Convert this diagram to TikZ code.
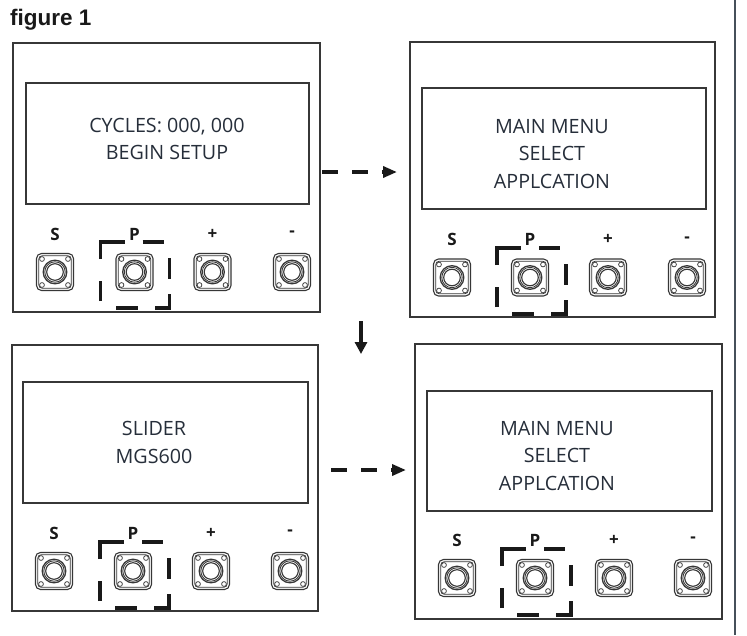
\documentclass[tikz,border=0pt]{standalone}
\usepackage{fontspec}
\setmainfont{Open Sans}
\newfontfamily\titlefont{Liberation Sans}
\usetikzlibrary{arrows.meta}
\definecolor{linegray}{RGB}{55,55,55}
\definecolor{txtnavy}{RGB}{38,46,58}
\definecolor{darkk}{RGB}{25,25,25}
\definecolor{edgegray}{RGB}{70,80,90}
\tikzset{
  panel/.style={draw=linegray, line width=1.4pt, inner sep=0pt, outer sep=0pt},
  screen/.style={draw=linegray, line width=1.6pt, inner sep=0pt, outer sep=0pt},
  screentext/.style={text=txtnavy, align=center, inner sep=0pt, font=\fontsize{19.7}{27.5}\selectfont},
  keylabel/.style={text=darkk, inner sep=0pt, font=\fontsize{17}{19}\selectfont\bfseries},
  hlline/.style={draw=darkk, line width=3.6pt},
  dasharrow/.style={draw=darkk, line width=3.4pt, dash pattern=on 16pt off 14pt, -{Triangle[length=14pt,width=11pt]}},
  solidarrow/.style={draw=darkk, line width=3.4pt, -{Triangle[length=12pt,width=12pt]}},
  btn/.pic={
    \draw[linegray, line width=1.1pt, rounded corners=5pt] (-18.5,-18.5) rectangle (18.5,18.5);
    \draw[linegray, line width=0.7pt, rounded corners=3.5pt] (-16.3,-16.3) rectangle (16.3,16.3);
    \foreach \sx in {-1,1} \foreach \sy in {-1,1} \draw[linegray, line width=0.7pt] (13*\sx,13*\sy) circle (2.4pt);
    \draw[linegray, line width=1.3pt] (0,0) circle (11.8pt);
    \draw[linegray, line width=0.8pt] (0,0) circle (10.2pt);
    \draw[linegray, line width=1.1pt] (0,0) circle (8.3pt);
  }
}
\newcommand{\mybtnrow}[6]{%
  \foreach \lab/\xx/\nm in {S/#2/s, P/#3/p, +/#4/plus, -/#5/minus} {
    \pic at (\xx,#6) {btn};
    \node[keylabel] (#1\nm) at (\xx,#6-38) {\lab};
  }%
}
\newcommand{\myhilite}[2]{%
  \begin{scope}[shift={(#1,#2)}]
    \draw[hlline] (-34,-13) -- (-34,-30) -- (-10,-30);
    \draw[hlline] (8,-30) -- (29,-30);
    \draw[hlline] (35,-14) -- (35,7);
    \draw[hlline] (35,22) -- (35,36) -- (20,36);
    \draw[hlline] (3,36) -- (-19,36);
    \draw[hlline] (-34,29) -- (-34,9);
  \end{scope}%
}
\begin{document}
\begin{tikzpicture}[x=1pt,y=-1pt]
\useasboundingbox (0,0) rectangle (747,635);
\fill[white] (0,0) rectangle (747,635);

% title
\node[anchor=base west, inner sep=0pt, font=\titlefont\bfseries\fontsize{22.5}{25}\selectfont, text=darkk] (title) at (10,25) {figure 1};

% right edge line
\coordinate (edgetop) at (735,0);
\coordinate (edgebot) at (735,635);
\draw[edgegray, line width=1.3pt] (edgetop) -- (edgebot);

% panel 1
\node[panel, minimum width=307pt, minimum height=269pt] (p1) at (166.5,177.5) {};
\node[screen, minimum width=283pt, minimum height=121pt] (s1) at (167.5,143.5) {};
\node[screentext] (t1) at (167,139) {CYCLES: 000, 000\\BEGIN SETUP};
\mybtnrow{a}{55}{134.5}{212.5}{292}{272}
\myhilite{134.5}{272}

% panel 2
\node[panel, minimum width=305pt, minimum height=275pt] (p2) at (562.5,179.5) {};
\node[screen, minimum width=284pt, minimum height=121pt] (s2) at (564,148.5) {};
\node[screentext] (t2) at (552,154) {MAIN MENU\\SELECT\\APPLCATION};
\mybtnrow{b}{452}{530}{608}{687}{277.5}
\myhilite{531}{278}

% panel 3
\node[panel, minimum width=306pt, minimum height=266pt] (p3) at (165,478) {};
\node[screen, minimum width=285pt, minimum height=121pt] (s3) at (165.5,442.5) {};
\node[screentext] (t3) at (154,442.5) {SLIDER\\MGS600};
\mybtnrow{c}{54}{133}{211}{290}{571}
\myhilite{134}{572}

% panel 4
\node[panel, minimum width=307pt, minimum height=275pt] (p4) at (568.5,481.5) {};
\node[screen, minimum width=285pt, minimum height=120pt] (s4) at (569.5,451) {};
\node[screentext] (t4) at (557,456) {MAIN MENU\\SELECT\\APPLCATION};
\mybtnrow{d}{457}{535}{614}{693}{578}
\myhilite{536}{579}

% arrows
\coordinate (a1s) at (322,172);
\coordinate (a1e) at (397,172);
\draw[dasharrow] (a1s) -- (a1e);
\coordinate (a2s) at (361,321);
\coordinate (a2e) at (361,354);
\draw[solidarrow] (a2s) -- (a2e);
\coordinate (a3s) at (331,470);
\coordinate (a3e) at (406,470);
\draw[dasharrow] (a3s) -- (a3e);
\end{tikzpicture}
\end{document}
